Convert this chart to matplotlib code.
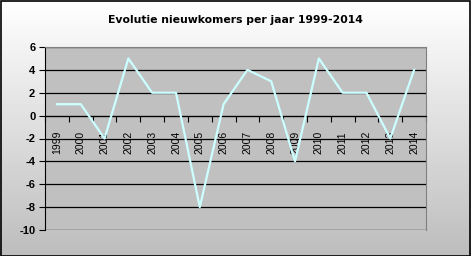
import matplotlib
matplotlib.use("Agg")
import matplotlib.pyplot as plt
import numpy as np
from matplotlib.patches import Rectangle

years = ["1999", "2000", "2001", "2002", "2003", "2004", "2005", "2006",
         "2007", "2008", "2009", "2010", "2011", "2012", "2013", "2014"]
values = [1, 1, -2, 5, 2, 2, -8, 1, 4, 3, -4, 5, 2, 2, -2, 4]
yticks = [-10, -8, -6, -4, -2, 0, 2, 4, 6]

plt.rcParams["font.family"] = ["Liberation Sans", "DejaVu Sans"]

fig = plt.figure(figsize=(4.71, 2.56), dpi=100)

# gradient background, white at top to grey at bottom
bg = fig.add_axes([0, 0, 1, 1], zorder=-10)
grad = np.linspace(1.0, 0.74, 256).reshape(-1, 1)
bg.imshow(grad, cmap="gray", vmin=0, vmax=1, aspect="auto", extent=[0, 1, 0, 1])
bg.set_axis_off()
fig.add_artist(Rectangle((0.5 / 471, 0.5 / 256), 1 - 1.5 / 471, 1 - 1.5 / 256,
                         transform=fig.transFigure, fill=False,
                         edgecolor="black", linewidth=1.2))

ax = fig.add_axes([45 / 471, 1 - 230 / 256, 381 / 471, 183 / 256])
ax.set_facecolor("#c0c0c0")
x = np.arange(len(years))
ax.plot(x, values, color="#ccffff", linewidth=1.6, zorder=3)

ax.set_xlim(-0.5, len(years) - 0.5)
ax.set_ylim(-10, 6)
ax.set_yticks(yticks)
ax.set_yticklabels([str(v) for v in yticks], fontsize=8, fontweight="bold")
ax.yaxis.grid(True, color="black", linewidth=0.9)
ax.set_axisbelow(True)
ax.tick_params(axis="y", direction="out", length=4, width=0.8, pad=3)

ax.spines["bottom"].set_position(("data", 0))
ax.spines["bottom"].set_color("black")
ax.spines["left"].set_color("black")
ax.spines["top"].set_color("#808080")
ax.spines["right"].set_color("#808080")
for s in ax.spines.values():
    s.set_linewidth(0.8)

ax.set_xticks(x)
ax.set_xticklabels(years, rotation=90, fontsize=7.5)
ax.set_xticks(np.arange(len(years) + 1) - 0.5, minor=True)
ax.tick_params(axis="x", which="major", length=0, pad=11)
ax.tick_params(axis="x", which="minor", direction="out", length=4, width=0.8)

# grey border along the bottom of the plot area
ax.axhline(-10, color="#808080", linewidth=0.8, zorder=4)

fig.text(0.5, 1 - 20 / 256, "Evolutie nieuwkomers per jaar 1999-2014",
         ha="center", va="center", fontsize=7.8, fontweight="bold",
         family="DejaVu Sans")

fig.savefig("out.png", dpi=100)
